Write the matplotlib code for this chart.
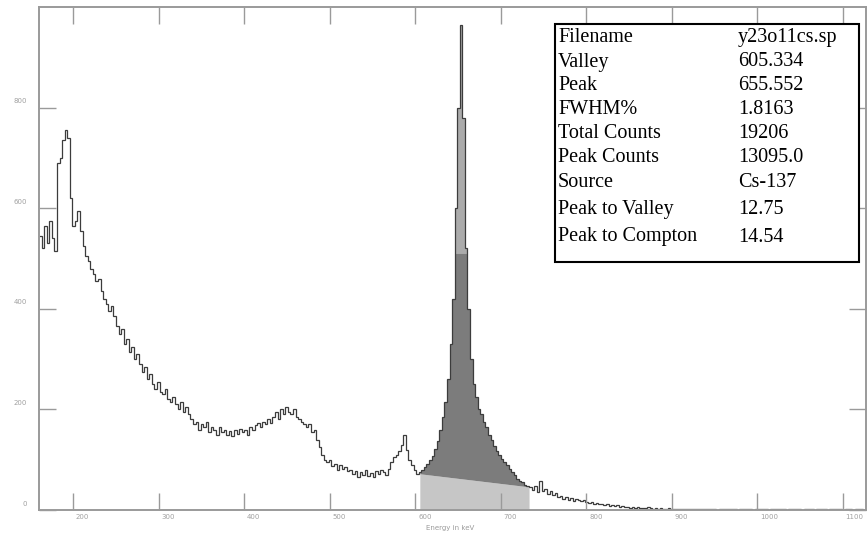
import numpy as np
import matplotlib
matplotlib.use('Agg')
import matplotlib.pyplot as plt
from matplotlib.patches import Rectangle
from matplotlib.transforms import ScaledTranslation

# spectrum: 3 keV bins starting at 160 keV (counts)
e_start = 160.0
bin_w = 3.0
counts = np.array([
    545, 520, 565, 530, 575, 540, 515, 690, 700, 735,   # 160
    755, 740, 620, 565, 575, 595, 555, 525, 505, 495,   # 190
    480, 470, 455, 460, 435, 420, 410, 395, 405, 385,   # 220
    365, 350, 360, 330, 340, 315, 325, 300, 310, 290,   # 250
    275, 285, 260, 270, 250, 240, 255, 235, 230, 240,   # 280
    220, 215, 225, 210, 200, 215, 195, 205, 190, 180,   # 310
    170, 175, 160, 170, 165, 175, 155, 165, 160, 150,   # 340
    165, 155, 160, 150, 158, 148, 160, 152, 162, 155,   # 370
    160, 150, 165, 160, 168, 172, 165, 175, 170, 180,   # 400
    172, 185, 195, 180, 200, 190, 205, 195, 190, 200,   # 430
    185, 180, 175, 170, 165, 170, 155, 160, 140, 125,   # 460
    110, 100, 95, 100, 88, 92, 80, 90, 82, 85,          # 490
    78, 80, 72, 78, 65, 75, 70, 80, 68, 74,             # 520
    66, 78, 72, 80, 75, 70, 82, 95, 105, 110,           # 550
    118, 130, 150, 120, 100, 90, 80, 72, 75, 80,        # 580
    85, 92, 100, 108, 122, 138, 160, 185, 215, 260,     # 610
    330, 420, 600, 800, 964, 780, 520, 400, 300, 250,   # 640
    225, 200, 190, 175, 165, 150, 140, 128, 118, 110,   # 670
    102, 95, 90, 82, 75, 70, 62, 58, 55, 50,            # 700
    48, 45, 40, 48, 35, 58, 38, 42, 32, 38,             # 730
    30, 34, 25, 28, 22, 26, 20, 24, 18, 22,             # 760
    19, 17, 20, 15, 14, 16, 12, 14, 11, 12,             # 790
    10, 11, 8, 10, 7, 9, 6, 7, 5, 6,                    # 820
    4, 5, 4, 6, 3, 4, 3, 5, 3, 2,                       # 850
    3, 2, 3, 2, 2, 3, 1, 2, 2, 1,                       # 880
    2, 1, 1, 2, 1, 2, 1, 1, 2, 1,                       # 910
    1, 2, 1, 1, 0, 1, 2, 1, 1, 1,                       # 940
    2, 1, 0, 1, 1, 2, 1, 1, 0, 1,                       # 970
    1, 1, 2, 1, 0, 1, 1, 1, 2, 1,                       # 1000
    1, 0, 1, 1, 1, 2, 1, 0, 1, 1,                       # 1030
    1, 1, 0, 1, 2, 1, 1, 0, 1, 1,                       # 1060
    1, 2, 1, 0, 1, 1, 1, 0, 1, 1,                       # 1090
    1, 0, 1,                                            # 1120
], dtype=float)
edges = e_start + bin_w * np.arange(len(counts) + 1)

# peak region / background line
valley_e, valley_c = 605.3, 72
end_e, end_c = 733.0, 46
upper_level = 510

labels = ['Filename', 'Valley', 'Peak', 'FWHM%', 'Total Counts',
          'Peak Counts', 'Source', 'Peak to Valley', 'Peak to Compton']
values = ['y23o11cs.sp', '605.334', '655.552', '1.8163', '19206',
          '13095.0', 'Cs-137', '12.75', '14.54']

W, H = 867, 535
fig = plt.figure(figsize=(W / 100, H / 100), dpi=100)
ax = fig.add_axes([39 / W, 1 - 510 / H, (866 - 39) / W, (510 - 7) / H])

# filled areas under the photopeak
xd = np.linspace(valley_e, end_e, 4000)
idx = np.clip(np.searchsorted(edges, xd, side='right') - 1, 0, len(counts) - 1)
yd = counts[idx]
bg = np.interp(xd, [valley_e, end_e], [valley_c, end_c])
ax.fill_between(xd, 0, bg, color='#c6c6c6', lw=0)
ax.fill_between(xd, bg, yd, where=yd > bg, color='#7c7c7c', lw=0)
ax.fill_between(xd, upper_level, yd, where=yd > upper_level, color='#ababab', lw=0)

ax.stairs(counts, edges, baseline=None, color='#3c3c3c', lw=0.9)

ax.set_xlim(160, 1127)
ax.set_ylim(0, 1000)
ax.set_xticks(np.arange(200, 1101, 100))
ax.set_yticks(np.arange(0, 801, 200))
for s in ax.spines.values():
    s.set_color('#9a9a9a')
    s.set_linewidth(1.4)
ax.tick_params(axis='both', which='major', direction='in', length=12.5, width=1,
               color='#9a9a9a', labelcolor='#a0a0a0', labelsize=5,
               top=True, right=True)
ax.tick_params(axis='x', pad=3)
ax.tick_params(axis='y', pad=8.5)

dx = ScaledTranslation(2 / 72, 0, fig.dpi_scale_trans)
for lab in ax.get_xticklabels():
    lab.set_horizontalalignment('left')
    lab.set_transform(lab.get_transform() + dx)
dy = ScaledTranslation(0, 5 / 72, fig.dpi_scale_trans)
for lab in ax.get_yticklabels():
    lab.set_transform(lab.get_transform() + dy)

fig.text(450 / W, 1 - 528 / H, 'Energy in keV', ha='center', va='center',
         fontsize=5, color='#9a9a9a')

# info box
fig.add_artist(Rectangle((555 / W, 1 - 262 / H), (859 - 555) / W, (262 - 24) / H,
                         transform=fig.transFigure, fill=True, facecolor='white',
                         edgecolor='black', lw=1.5))
row_y = [42, 66.5, 90, 114, 137.5, 162, 187, 214, 241.5]
for lab, val, y in zip(labels, values, row_y):
    fig.text(558 / W, 1 - y / H, lab, fontsize=14.5, family='Liberation Serif',
             va='baseline', ha='left')
    fig.text(738 / W, 1 - y / H, val, fontsize=14.5, family='Liberation Serif',
             va='baseline', ha='left')

fig.savefig('out.png', dpi=100)
